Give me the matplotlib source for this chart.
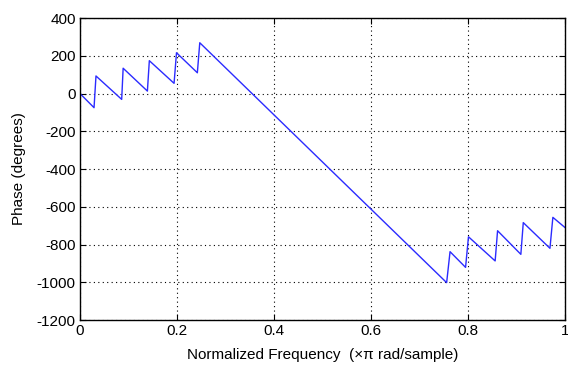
import matplotlib
matplotlib.use("Agg")
import matplotlib.pyplot as plt

freq = [0.0, 0.029, 0.033, 0.086, 0.089, 0.139, 0.143, 0.194, 0.199, 0.242, 0.247,
        0.756, 0.763, 0.795, 0.801, 0.856, 0.861, 0.909, 0.914, 0.969, 0.975, 1.0]
phase = [0, -75, 93, -31, 134, 13, 174, 54, 216, 110, 269,
         -1002, -838, -921, -759, -887, -727, -852, -684, -820, -656, -710]

xticks = [0, 0.2, 0.4, 0.6, 0.8, 1]
xticklabels = ["0", "0.2", "0.4", "0.6", "0.8", "1"]
yticks = [-1200, -1000, -800, -600, -400, -200, 0, 200, 400]
yticklabels = ["-1200", "-1000", "-800", "-600", "-400", "-200", "0", "200", "400"]

plt.rcParams['font.family'] = ['Liberation Sans', 'DejaVu Sans']

fig = plt.figure(figsize=(5.68, 3.68), dpi=100)
ax = fig.add_axes([0.1408, 0.1304, 0.8539, 0.8206])
ax.plot(freq, phase, color='#2b2bff', lw=1.0)
ax.set_xlim(0, 1)
ax.set_ylim(-1200, 400)
ax.set_xticks(xticks)
ax.set_xticklabels(xticklabels)
ax.set_yticks(yticks)
ax.set_yticklabels(yticklabels)
ax.grid(True, linestyle=(0, (1, 3)), color='black', linewidth=0.8)
ax.tick_params(direction='in', top=True, right=True, labelsize=11, length=4, pad=3)
for s in ax.spines.values():
    s.set_linewidth(1.0)
ax.set_xlabel("Normalized Frequency  (\u00d7\u03c0 rad/sample)", fontsize=11, labelpad=7)
ax.set_ylabel("Phase (degrees)", fontsize=11, labelpad=8)
fig.savefig("out.png", dpi=100)
